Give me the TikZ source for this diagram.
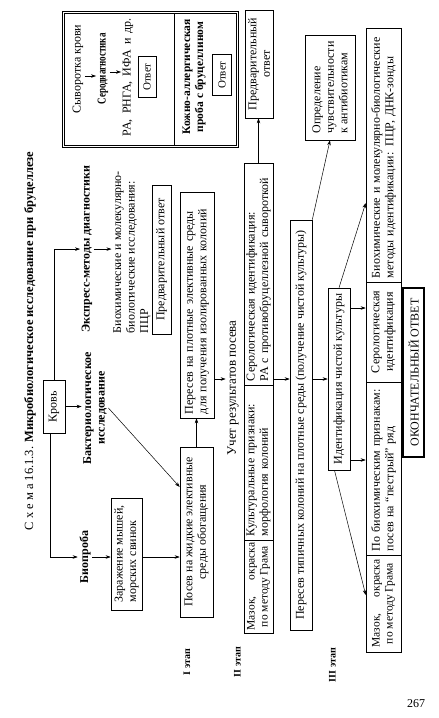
\documentclass[tikz,border=0pt]{standalone}
\usepackage{fontspec}
\usepackage{graphicx}
\setmainfont{Liberation Serif}
\usetikzlibrary{arrows.meta,calc}
\newcommand{\fsz}[2]{\fontsize{#1}{#2}\selectfont}
\newcommand{\jl}[2]{\makebox[#1][s]{#2}}
\begin{document}
\begin{tikzpicture}[x=1pt,y=-1pt,
  bx/.style={draw, line width=0.6pt, rotate=90, inner xsep=3pt, inner ysep=1.5pt, font=\fsz{12}{13.5}, align=center},
  tx/.style={rotate=90, inner sep=1.5pt, font=\fsz{12}{13.5}, align=center},
  bt/.style={tx, font=\fsz{12}{13.5}\bfseries},
  etap/.style={tx, font=\fsz{10}{11}\bfseries},
  arr/.style={line width=0.5pt, -{Stealth[length=5pt,width=3.5pt]}},
  ln/.style={line width=0.5pt}
]
\fill[white] (0,0) rectangle (439,718);
\useasboundingbox (0,0) rectangle (439,718);

% title
\node[tx, font=\fsz{12.5}{14}] (title) at (30,341) {С х е м а 16.1.3. \textbf{Микробиологическое исследование при бруцеллезе}};

% top frame
\draw[ln] (174,13) -- (174,146);
\node[draw, double, double distance=1.8pt, line width=0.6pt, minimum width=174pt, minimum height=134pt, inner sep=0pt] (frame) at (150.5,79.5) {};
\node[tx] (syv) at (78,69) {Сыворотка крови};
\node[bt] (serod) at (103,69) {\scalebox{0.75}[1]{Серодиагностика}};
\node[tx] (ra) at (128,77) {\jl{118pt}{РА, РНГА, ИФА и др.}};
\draw[arr] (syv.south |- 0,76) -- (serod.north |- 0,76);
\draw[arr] (serod.south |- 0,72) -- (ra.north |- 0,72);
\node[bx, minimum width=41pt, minimum height=18pt, font=\fsz{11}{12}] (otv1) at (147,77) {Ответ};
\node[bt, font=\fsz{11.5}{13}\bfseries] (kozh) at (194,77) {Кожно-аллергическая\\проба с бруцеллином};
\node[bx, minimum width=41pt, minimum height=19pt, font=\fsz{11}{12}] (otv2) at (222,75) {Ответ};

% blood and branches
\node[bx, minimum width=53pt, minimum height=22pt] (krov) at (54,406.5) {Кровь};
\node[bt, anchor=west] (ekspr) at (87,334) {Экспресс-методы диагностики};
\node[tx, align=left, anchor=north west] (bioh1) at (111.5,335) {Биохимические и молекулярно-\\биологические исследования:\\ПЦР};
\node[bx, minimum width=149pt, minimum height=19pt] (pred1) at (161.5,259.5) {Предварительный ответ};
\node[bt] (bakt) at (95,408) {Бактериологическое\\исследование};
\node[bt] (biop) at (85,557) {Биопроба};
\node[bx, minimum width=112pt, minimum height=31pt, align=left] (zar) at (126.5,554) {Заражение мышей,\\морских свинок};
\node[bx, minimum width=170pt, minimum height=33pt] (posev) at (196.5,532) {Посев на жидкие элективные\\среды обогащения};
\node[bx, minimum width=226pt, minimum height=34pt, text width=218pt, align=left] (peres) at (197,305) {Пересев на плотные элективные среды\\для получения изолированных колоний};

\draw[arr] (krov.east) |- (ekspr.north);
\draw[arr] (krov.south) -- (krov.south -| bakt.north);
\draw[arr] ([xshift=-4pt]krov.west) |- (biop.north);
\draw[arr] (ekspr.south) -- (ekspr.south -| bioh1.north);
\draw[arr] (biop.south) -- (zar.north |- biop.south);
\draw[arr] (zar.south |- 0,557) -- (posev.north |- 0,557);
\draw[arr] (bakt.south) -- (posev.north |- 0,487);
\draw[arr] (posev.east) -- (posev.east |- peres.west);

% stage labels
\node[etap] (et1) at (187,662) {I этап};
\node[etap] (et2) at (237.5,662) {II этап};
\node[etap] (et3) at (332.5,665) {III этап};

% stage II
\node[tx, font=\fsz{13}{14}] (uchet) at (233,388) {Учет результатов посева};
\draw[arr] (peres.south |- 0,379) -- (uchet.north |- 0,379);
\node[bx, minimum width=93pt, minimum height=29pt, inner xsep=2pt, font=\fsz{11.5}{13}] (maz2) at (258.5,586.5) {\jl{88pt}{Мазок, окраска}\\по методу Грама};
\node[bx, minimum width=155pt, minimum height=29pt, text width=147pt, align=left] (kult) at (258.5,462.5) {Культуральные признаки:\\морфология колоний};
\node[bx, minimum width=222pt, minimum height=29pt, text width=214pt, align=left] (sero2) at (258.5,274) {Серологическая идентификация:\\РА с противобруцеллезной сывороткой};
\node[bx, minimum width=108pt, minimum height=28pt] (pred2) at (259,64) {Предварительный\\ответ};
\draw[arr] (sero2.east) -- (sero2.east |- pred2.west);

% stage III
\node[bx, minimum width=410pt, minimum height=22pt] (per2) at (301,425) {Пересев типичных колоний на плотные среды (получение чистой культуры)};
\draw[arr] (sero2.south |- 0,379) -- (per2.north |- 0,379);
\node[bx, minimum width=182pt, minimum height=22pt] (ident) at (339,379) {Идентификация чистой культуры};
\draw[arr] (per2.south |- ident.north) -- (ident.north);
\node[bx, minimum width=105pt, minimum height=50pt, align=left] (opred) at (330,87.5) {Определение\\чувствительности\\к антибиотикам};
\draw[arr] (per2.south east) -- (opred.west);

\node[bx, minimum width=97pt, minimum height=35pt, inner xsep=2pt, font=\fsz{11.5}{13}] (maz3) at (383.5,603.5) {\jl{88pt}{Мазок, окраска}\\по методу Грама};
\node[bx, minimum width=173pt, minimum height=35pt, text width=165pt, align=left] (pobio) at (383.5,468.5) {По биохимическим признакам:\\посев на “пестрый” ряд};
\node[bx, minimum width=100pt, minimum height=35pt] (sero3) at (383.5,332) {Серологическая\\идентификация};
\node[bx, minimum width=254pt, minimum height=35pt, text width=246pt, align=left] (bioh3) at (383.5,155) {Биохимические и молекулярно-биологические\\методы идентификации: ПЦР, ДНК-зонды};

\draw[arr] (ident.south |- 0,308) -- (sero3.north |- 0,308);
\draw[arr] (ident.south |- 0,460) -- (pobio.north |- 0,460);
\draw[arr] ($(ident.north west)!0.3!(ident.south west)$) -- (maz3.north |- 0,595);
\draw[arr] (ident.east) -- (bioh3.north |- 0,203);

\node[bx, line width=1.2pt, minimum width=169pt, minimum height=21pt] (final) at (413.5,372.5) {ОКОНЧАТЕЛЬНЫЙ ОТВЕТ};
\node[font=\fsz{12}{13}, inner sep=0pt] (page) at (416,704) {267};
\end{tikzpicture}
\end{document}
